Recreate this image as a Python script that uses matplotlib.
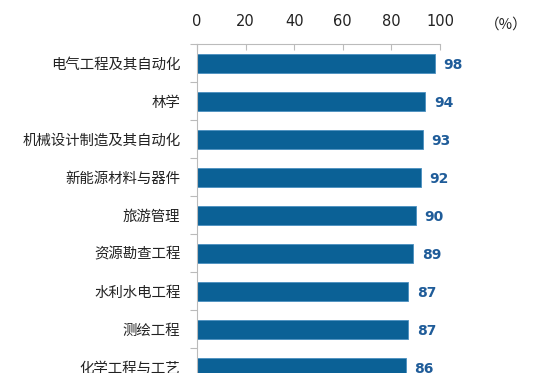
import matplotlib
matplotlib.use("Agg")
import matplotlib.pyplot as plt
from matplotlib.ticker import FixedLocator

plt.rcParams['font.family'] = ['Noto Sans CJK SC', 'DejaVu Sans']

categories = ["电气工程及其自动化", "林学", "机械设计制造及其自动化", "新能源材料与器件",
              "旅游管理", "资源勘查工程", "水利水电工程", "测绘工程", "化学工程与工艺"]
values = [98, 94, 93, 92, 90, 89, 87, 87, 86]
xticks = [0, 20, 40, 60, 80, 100]
unit_label = "（%）"

W, H = 536, 373
fig = plt.figure(figsize=(W / 100, H / 100), dpi=100)
left_px, right_px, top_px = 197, 440, 44
band_px = 38
ax = fig.add_axes([left_px / W, 0, (right_px - left_px) / W, 1 - top_px / H])

ypos = list(range(len(categories)))
ax.barh(ypos, values, height=0.5, color='#0B6196', edgecolor='#4A8FC0', linewidth=0.6, zorder=2)

ax.set_xlim(0, 100)
ax.set_ylim(-0.5 + (H - top_px) / band_px, -0.5)

ax.xaxis.tick_top()
ax.set_xticks(xticks)
ax.set_xticklabels([str(t) for t in xticks], fontsize=10.5, color='#222222', family='DejaVu Sans')
ax.tick_params(axis='x', direction='in', length=4, width=0.8, color='#BBBBBB', pad=10.5)

ax.set_yticks(ypos)
ax.set_yticklabels(categories, fontsize=10.4, color='#222222')
ax.tick_params(axis='y', which='major', length=0, pad=12)
ax.yaxis.set_minor_locator(FixedLocator([i - 0.5 for i in range(len(categories) + 1)]))
ax.tick_params(axis='y', which='minor', direction='out', length=5, width=0.8, color='#BBBBBB')

for s in ['right', 'bottom']:
    ax.spines[s].set_visible(False)
for s in ['top', 'left']:
    ax.spines[s].set_color('#BBBBBB')
    ax.spines[s].set_linewidth(0.8)

for y, v in zip(ypos, values):
    ax.text(v + 3.5, y + 0.05, str(v), va='center', ha='left', fontsize=10,
            fontweight='bold', color='#1F5C99', family='DejaVu Sans')

fig.text(506 / W, 1 - 25 / H, unit_label, ha='center', va='center', fontsize=10.5, color='#222222')

fig.savefig("out.png", dpi=100)
